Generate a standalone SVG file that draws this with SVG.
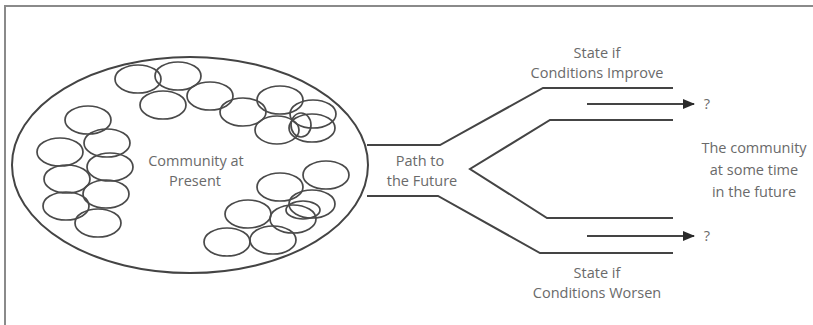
<svg xmlns="http://www.w3.org/2000/svg" width="813" height="325" viewBox="0 0 813 325">
  <style>
    .frame { fill: none; stroke: #8a8a8a; stroke-width: 2; }
    .line { fill: none; stroke: #444; stroke-width: 2; }
    .member { fill: none; stroke: #4a4a4a; stroke-width: 1.7; }
    .label { font-family: "Open Sans", "DejaVu Sans", sans-serif; font-size: 14.5px; fill: #6a6a6a; text-anchor: middle; }
  </style>
  <defs>
    <marker id="head" viewBox="0 0 12 10" refX="11" refY="5" markerWidth="12" markerHeight="10" markerUnits="userSpaceOnUse" orient="auto">
      <path d="M0,0 L12,5 L0,10 z" fill="#2a2a2a"/>
    </marker>
  </defs>

  <rect width="813" height="325" fill="#fff"/>
  <!-- outer frame (top and left edges visible) -->
  <path class="frame" d="M5,325 V6 H813"/>

  <!-- community today: large ellipse with member circles -->
  <g id="community-present">
    <ellipse class="line" cx="190" cy="165" rx="178" ry="108"/>
    <g id="group-top">
      <ellipse class="member" cx="138" cy="79" rx="23" ry="14"/>
      <ellipse class="member" cx="178" cy="76" rx="23" ry="14"/>
      <ellipse class="member" cx="163" cy="105" rx="23" ry="14"/>
      <ellipse class="member" cx="210" cy="96" rx="23" ry="14"/>
      <ellipse class="member" cx="243" cy="112" rx="23" ry="14"/>
      <ellipse class="member" cx="280" cy="100" rx="23" ry="14"/>
      <ellipse class="member" cx="313" cy="114" rx="23" ry="14"/>
      <ellipse class="member" cx="277" cy="130" rx="22" ry="14"/>
      <ellipse class="member" cx="312" cy="128" rx="23" ry="14"/>
      <ellipse class="member" cx="301" cy="125" rx="10" ry="12"/>
    </g>
    <g id="group-left">
      <ellipse class="member" cx="88" cy="120" rx="23" ry="14"/>
      <ellipse class="member" cx="60" cy="152" rx="23" ry="14"/>
      <ellipse class="member" cx="107" cy="143" rx="23" ry="14"/>
      <ellipse class="member" cx="110" cy="167" rx="23" ry="14"/>
      <ellipse class="member" cx="67" cy="179" rx="23" ry="14"/>
      <ellipse class="member" cx="106" cy="194" rx="23" ry="14"/>
      <ellipse class="member" cx="66" cy="206" rx="23" ry="14"/>
      <ellipse class="member" cx="98" cy="223" rx="23" ry="14"/>
    </g>
    <g id="group-bottom">
      <ellipse class="member" cx="326" cy="175" rx="23" ry="14"/>
      <ellipse class="member" cx="280" cy="187" rx="23" ry="14"/>
      <ellipse class="member" cx="312" cy="204" rx="23" ry="14"/>
      <ellipse class="member" cx="303" cy="210" rx="17" ry="9"/>
      <ellipse class="member" cx="293" cy="219" rx="23" ry="14"/>
      <ellipse class="member" cx="248" cy="214" rx="23" ry="14"/>
      <ellipse class="member" cx="227" cy="242" rx="23" ry="14"/>
      <ellipse class="member" cx="273" cy="240" rx="23" ry="14"/>
    </g>
    <text class="label" x="196" y="166">Community at</text>
    <text class="label" x="195" y="186">Present</text>
  </g>

  <!-- branching road -->
  <g id="connectors">
    <path class="line" d="M367,145 H440 L543,88 H673"/>
    <path class="line" d="M673,120 H550 L470,169 L547,218 H673"/>
    <path class="line" d="M367,196 H438 L540,253 H673"/>
    <line class="line" x1="587" y1="104" x2="694" y2="104" marker-end="url(#head)"/>
    <line class="line" x1="587" y1="236" x2="694" y2="236" marker-end="url(#head)"/>
  </g>

  <g id="path-label">
    <text class="label" x="420" y="166">Path to</text>
    <text class="label" x="422" y="186">the Future</text>
  </g>

  <g id="state-improve">
    <text class="label" x="597" y="58">State if</text>
    <text class="label" x="597" y="78">Conditions Improve</text>
    <text class="label" x="707" y="109">?</text>
  </g>

  <g id="state-worsen">
    <text class="label" x="597" y="278">State if</text>
    <text class="label" x="597" y="298">Conditions Worsen</text>
    <text class="label" x="707" y="241">?</text>
  </g>

  <g id="future">
    <text class="label" x="754" y="153">The community</text>
    <text class="label" x="754" y="175">at some time</text>
    <text class="label" x="754" y="197">in the future</text>
  </g>
</svg>
